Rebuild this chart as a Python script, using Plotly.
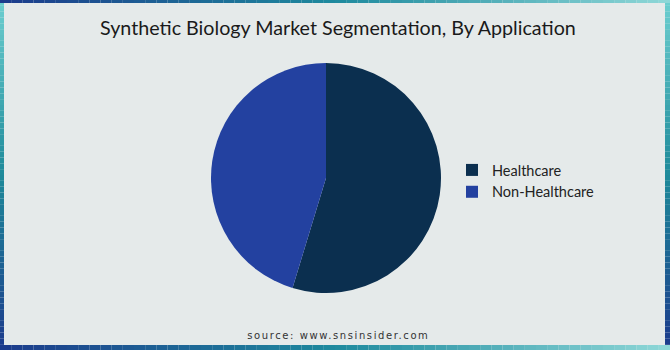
import plotly.graph_objects as go

W, H = 670, 350

title_text = "Synthetic Biology Market Segmentation, By Application"
source_text = "source: www.snsinsider.com"
labels = ["Healthcare", "Non-Healthcare"]
values = [54.7, 45.3]
colors = ["#0b2f4f", "#2341a0"]

def lerp(c1, c2, t):
    a = [int(c1[i:i+2], 16) for i in (1, 3, 5)]
    b = [int(c2[i:i+2], 16) for i in (1, 3, 5)]
    return "#%02x%02x%02x" % tuple(int(round(a[k] + (b[k] - a[k]) * t)) for k in range(3))

def grad(stops, t):
    n = len(stops) - 1
    i = min(int(t * n), n - 1)
    return lerp(stops[i], stops[i + 1], t * n - i)

shapes = []
hstops = ["#1c3b8c", "#1e8a9e", "#8fd8d8"]
N = 60
for i in range(N):
    x0, x1 = i / N, (i + 1) / N
    c = grad(hstops, (i + 0.5) / N)
    shapes.append(dict(type="rect", xref="paper", yref="paper", x0=x0, x1=x1,
                       y0=1 - 3 / H, y1=1, fillcolor=c, line_width=0, layer="below"))
    shapes.append(dict(type="rect", xref="paper", yref="paper", x0=x0, x1=x1,
                       y0=0, y1=5 / H, fillcolor=c, line_width=0, layer="below"))
vstops = ["#6dcfd0", "#1e8a9a", "#1c3a8c"]
for i in range(N):
    y1, y0 = 1 - i / N, 1 - (i + 1) / N
    c = grad(vstops, (i + 0.5) / N)
    shapes.append(dict(type="rect", xref="paper", yref="paper", x0=0, x1=4 / W,
                       y0=max(y0, 5 / H), y1=min(y1, 1 - 3 / H), fillcolor=c, line_width=0, layer="below"))
    shapes.append(dict(type="rect", xref="paper", yref="paper", x0=1 - 5 / W, x1=1,
                       y0=max(y0, 5 / H), y1=min(y1, 1 - 3 / H), fillcolor=c, line_width=0, layer="below"))

cx, cy, r = 326, 178, 115
fig = go.Figure(go.Pie(
    labels=labels, values=values, sort=False, direction="clockwise", rotation=0,
    marker=dict(colors=colors, line=dict(width=0)),
    textinfo="none", hoverinfo="label+percent",
    domain=dict(x=[(cx - r) / W, (cx + r) / W], y=[(H - cy - r) / H, (H - cy + r) / H]),
))

fig.update_layout(
    width=W, height=H, margin=dict(l=0, r=0, t=0, b=0),
    paper_bgcolor="#e5eaea", plot_bgcolor="#e5eaea",
    shapes=shapes,
    showlegend=True,
    legend=dict(x=452 / W, y=(H - 181) / H, xanchor="left", yanchor="middle",
                font=dict(family="Lato, DejaVu Sans, sans-serif", size=14.5, color="#222222"),
                bgcolor="rgba(0,0,0,0)", itemwidth=30, tracegroupgap=4),
    annotations=[
        dict(text=title_text, x=338 / W, y=(H - 27) / H, xref="paper", yref="paper",
             showarrow=False, xanchor="center", yanchor="middle",
             font=dict(family="Lato, DejaVu Sans, sans-serif", size=19.7, color="#1a1a1a")),
        dict(text=source_text, x=339 / W, y=(H - 335) / H, xref="paper", yref="paper",
             showarrow=False, xanchor="center", yanchor="middle",
             font=dict(family="DejaVu Sans, sans-serif", size=10, color="#333333")),
    ],
)

post = """
document.querySelectorAll('.annotation-text').forEach(function(e){
  if (e.textContent.indexOf('source') === 0) { e.style.letterSpacing = '1.6px'; }
});
"""
fig.write_html("out.html", post_script=post)
